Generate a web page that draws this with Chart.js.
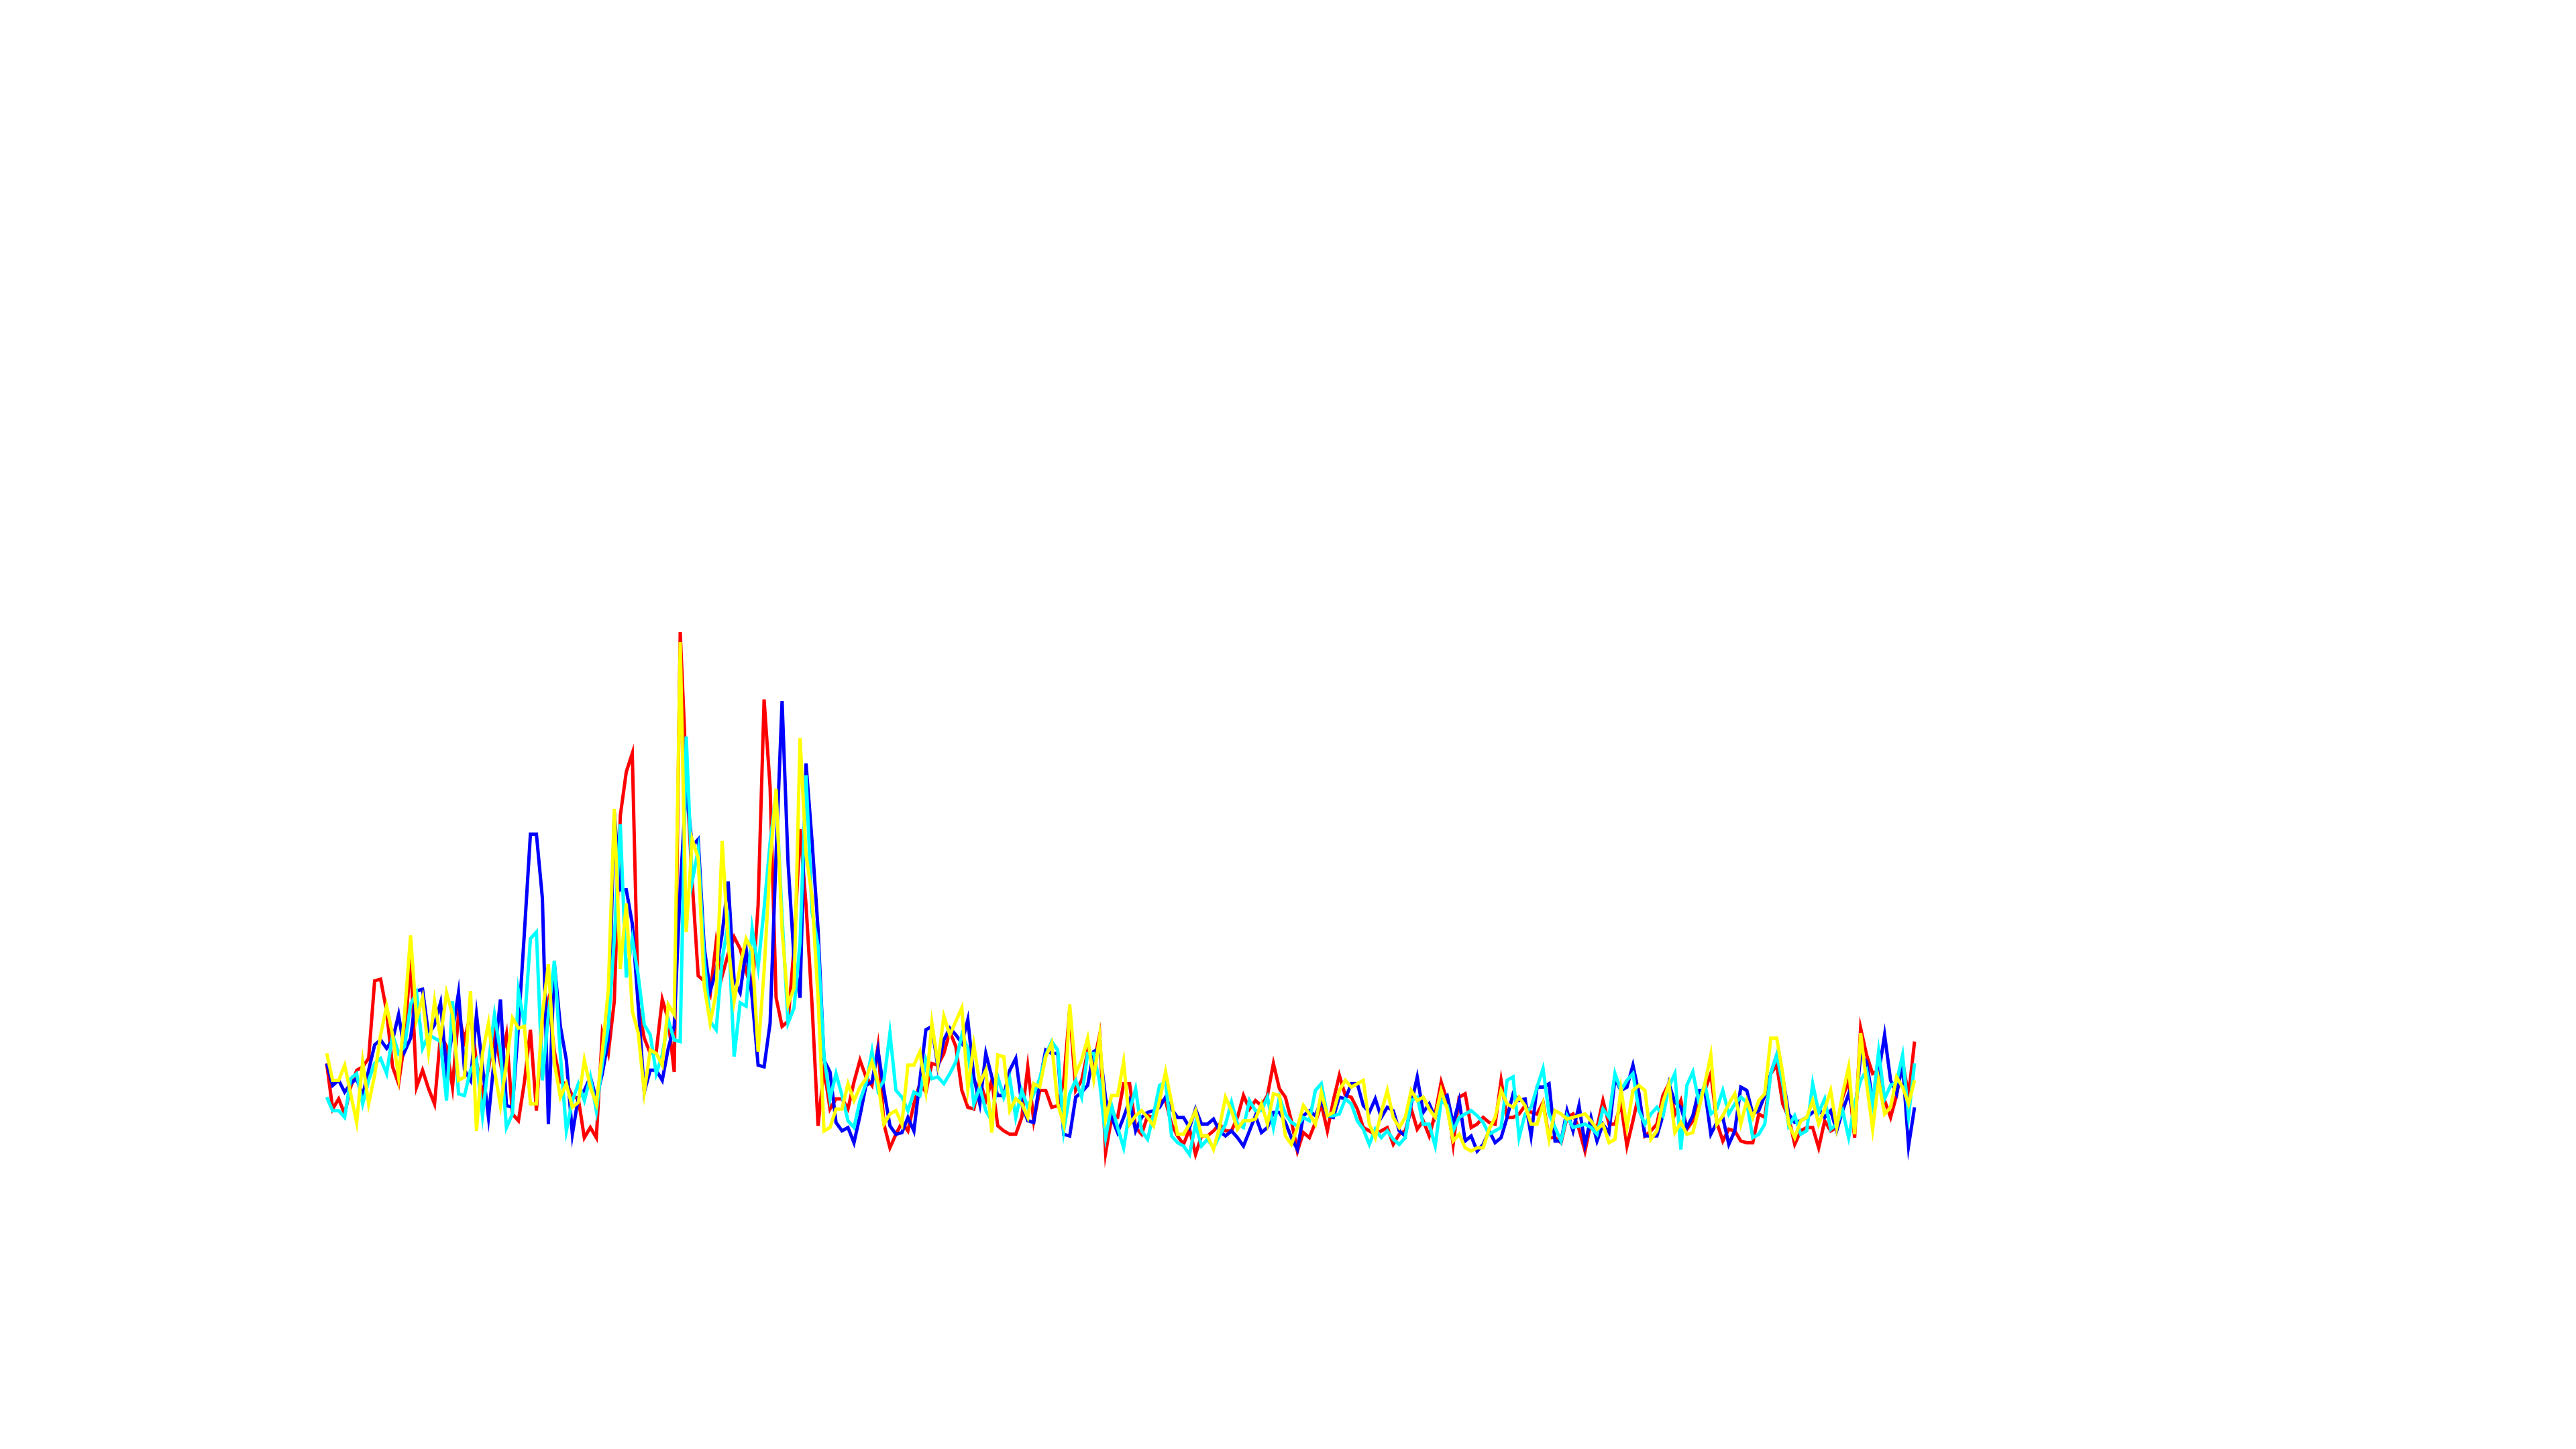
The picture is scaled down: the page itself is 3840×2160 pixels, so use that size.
<!DOCTYPE html>
<html>
<head>
<meta charset="utf-8">
<title>Four traces</title>
<script src="https://cdn.jsdelivr.net/npm/chart.js@4/dist/chart.umd.min.js"></script>
<style>
  html, body { margin: 0; padding: 0; background: #fff; }
  #wrap { width: 3840px; height: 2160px; }
</style>
</head>
<body>
<div id="wrap"><canvas id="traces" width="3840" height="2160"></canvas></div>
<script>
// values, one per sample, grid step = 100
const redSeries = [
  56, 29, 35, 26, 42, 52, 54, 59, 105, 106, 87, 54, 44, 69, 119, 42, 52, 41, 32, 73,
  66, 42, 85, 70, 85, 57, 38, 53, 74, 56, 73, 26, 22, 45, 76, 28, 82, 94, 63, 45,
  44, 37, 35, 12, 18, 12, 74, 62, 93, 203, 229, 240, 90, 71, 62, 63, 94, 82, 51, 312,
  230, 164, 108, 105, 97, 128, 108, 121, 131, 124, 111, 98, 150, 272, 220, 95, 78, 81, 125, 195,
  150, 91, 19, 53, 29, 35, 35, 29, 45, 58, 48, 43, 66, 20, 6, 14, 21, 16, 32, 44,
  39, 56, 55, 62, 75, 66, 40, 30, 29, 46, 34, 46, 19, 16, 14, 14, 24, 54, 22, 40,
  40, 30, 31, 45, 88, 40, 46, 63, 56, 73, 3, 24, 24, 44, 44, 18, 14, 25, 24, 34,
  34, 20, 13, 8, 17, 2, 13, 13, 16, 20, 16, 16, 24, 37, 29, 34, 31, 37, 56, 41,
  36, 22, 4, 15, 12, 21, 32, 16, 34, 49, 37, 36, 29, 18, 16, 14, 16, 18, 8, 14,
  16, 29, 17, 22, 13, 26, 45, 34, 8, 36, 38, 18, 20, 24, 21, 20, 46, 24, 24, 26,
  31, 27, 26, 33, 12, 12, 9, 24, 26, 17, 4, 21, 18, 34, 20, 20, 32, 7, 22, 38,
  13, 16, 20, 37, 44, 26, 34, 17, 22, 37, 40, 50, 21, 10, 17, 16, 10, 9, 9, 26,
  24, 50, 55, 32, 24, 8, 16, 18, 18, 6, 22, 16, 18, 36, 46, 12, 77, 61, 50, 52,
  34, 24, 37, 57, 37, 69
];
const blueSeries = [
  56, 43, 46, 39, 44, 47, 37, 52, 67, 70, 65, 70, 85, 63, 71, 99, 100, 73, 79, 92,
  52, 75, 98, 52, 46, 85, 54, 24, 60, 94, 31, 30, 78, 134, 192, 192, 154, 20, 115, 78,
  58, 14, 36, 40, 48, 35, 50, 70, 205, 159, 159, 139, 90, 39, 52, 52, 46, 65, 78, 160,
  220, 185, 189, 125, 99, 111, 133, 164, 105, 98, 124, 95, 55, 54, 80, 180, 271, 175, 118, 95,
  234, 188, 136, 58, 51, 21, 16, 18, 9, 25, 43, 45, 64, 40, 19, 14, 15, 24, 16, 46,
  76, 78, 54, 70, 77, 73, 68, 82, 48, 32, 62, 48, 37, 37, 52, 59, 32, 22, 21, 45,
  64, 62, 62, 14, 13, 36, 39, 43, 63, 65, 35, 24, 15, 24, 34, 16, 24, 27, 28, 30,
  36, 29, 24, 24, 18, 29, 20, 20, 23, 16, 13, 16, 12, 7, 16, 25, 15, 18, 27, 27,
  21, 12, 5, 25, 28, 25, 34, 25, 24, 36, 35, 44, 44, 31, 27, 35, 24, 30, 28, 16,
  13, 32, 48, 27, 32, 24, 34, 37, 20, 34, 10, 13, 4, 8, 16, 9, 12, 24, 38, 34,
  35, 13, 42, 42, 44, 10, 10, 28, 16, 31, 8, 24, 10, 20, 15, 47, 40, 42, 55, 38,
  13, 13, 13, 25, 44, 33, 30, 18, 25, 40, 40, 14, 21, 24, 8, 16, 42, 40, 26, 28,
  37, 50, 61, 48, 26, 21, 22, 24, 27, 29, 24, 28, 16, 28, 38, 24, 61, 57, 34, 50,
  73, 46, 38, 56, 7, 30
];
const cyanSeries = [
  36, 28, 28, 24, 47, 50, 32, 46, 56, 59, 50, 73, 62, 66, 91, 98, 65, 73, 71, 69,
  34, 93, 38, 37, 52, 58, 25, 56, 85, 63, 18, 26, 99, 79, 130, 134, 46, 85, 117, 61,
  16, 34, 44, 34, 48, 28, 56, 78, 130, 198, 107, 130, 108, 79, 73, 50, 61, 82, 70, 69,
  250, 164, 183, 118, 81, 76, 118, 139, 60, 92, 90, 136, 113, 148, 187, 216, 143, 80, 89, 128,
  227, 146, 126, 60, 35, 50, 37, 22, 18, 34, 44, 63, 40, 46, 74, 40, 36, 28, 39, 37,
  58, 47, 48, 44, 50, 57, 73, 65, 32, 42, 28, 22, 48, 36, 47, 24, 40, 30, 38, 47,
  61, 69, 64, 16, 38, 46, 36, 62, 62, 45, 12, 31, 18, 6, 28, 41, 16, 11, 26, 43,
  45, 13, 9, 7, 2, 20, 7, 11, 6, 13, 20, 33, 20, 18, 34, 28, 28, 36, 18, 36,
  26, 21, 19, 24, 22, 40, 44, 25, 25, 26, 35, 32, 22, 17, 8, 17, 12, 16, 11, 8,
  12, 34, 36, 20, 20, 7, 34, 31, 16, 24, 26, 28, 25, 21, 14, 16, 18, 46, 48, 12,
  26, 30, 42, 53, 26, 18, 10, 25, 18, 19, 20, 18, 14, 29, 24, 50, 40, 46, 50, 28,
  20, 26, 30, 25, 42, 50, 5, 43, 51, 33, 44, 26, 29, 40, 26, 32, 36, 33, 12, 14,
  20, 50, 61, 44, 19, 25, 14, 16, 44, 27, 35, 17, 20, 28, 12, 32, 46, 52, 32, 63,
  35, 43, 45, 61, 25, 56
];
const yellowSeries = [
  62, 46, 46, 55, 38, 21, 57, 32, 49, 73, 90, 73, 48, 85, 132, 82, 95, 63, 93, 71,
  98, 85, 46, 48, 99, 16, 62, 80, 52, 31, 56, 83, 77, 78, 32, 32, 85, 115, 56, 36,
  44, 30, 33, 58, 42, 32, 63, 100, 207, 112, 151, 87, 74, 39, 64, 62, 55, 91, 85, 306,
  134, 189, 178, 102, 80, 98, 188, 127, 93, 114, 130, 123, 63, 111, 175, 219, 135, 91, 101, 249,
  180, 155, 95, 16, 18, 29, 29, 44, 34, 42, 47, 57, 45, 20, 26, 28, 20, 55, 55, 63,
  40, 80, 56, 84, 73, 81, 89, 41, 67, 44, 52, 15, 61, 60, 28, 35, 32, 24, 44, 42,
  60, 68, 32, 20, 91, 50, 58, 71, 47, 72, 23, 37, 37, 57, 20, 25, 28, 24, 19, 34,
  51, 33, 14, 14, 20, 28, 13, 13, 5, 18, 36, 28, 17, 22, 22, 23, 32, 20, 38, 37,
  13, 8, 18, 31, 26, 20, 39, 25, 27, 40, 46, 42, 44, 46, 20, 12, 27, 40, 24, 18,
  24, 40, 34, 36, 29, 24, 40, 29, 10, 14, 6, 4, 6, 6, 17, 24, 40, 32, 30, 36,
  31, 20, 20, 32, 11, 28, 26, 23, 24, 25, 26, 22, 17, 20, 9, 11, 41, 18, 40, 43,
  40, 11, 16, 33, 44, 15, 21, 14, 15, 29, 44, 61, 20, 25, 32, 38, 20, 34, 24, 34,
  38, 71, 71, 50, 20, 12, 22, 24, 34, 20, 29, 40, 18, 38, 54, 14, 74, 44, 17, 46,
  26, 30, 48, 42, 32, 46
];

// sample numbers along the x axis (no tick labels are shown)
const sampleLabels = redSeries.map((v, i) => i + 1);

const chartCanvas = document.getElementById("traces");

chartCanvas.chart = new Chart(chartCanvas, {
  type: "line",
  data: {
    labels: sampleLabels,
    datasets: [
      { label: "red", data: redSeries, borderColor: "#ff0000", order: 3 },
      { label: "blue", data: blueSeries, borderColor: "#0000ff", order: 2 },
      { label: "cyan", data: cyanSeries, borderColor: "#00ffff", order: 1 },
      { label: "yellow", data: yellowSeries, borderColor: "#ffff00", order: 0 },
    ],
  },
  options: {
    responsive: false,
    animation: false,
    devicePixelRatio: 1,
    layout: {
      padding: { left: 487, right: 986, top: 922, bottom: 434 },
    },
    elements: {
      line: { borderWidth: 5, tension: 0, fill: false, borderCapStyle: "butt", borderJoinStyle: "miter" },
      point: { radius: 0, hoverRadius: 0 },
    },
    datasets: {
      line: { clip: false },
    },
    plugins: {
      legend: { display: false },
      tooltip: { enabled: false },
      title: { display: false },
    },
    scales: {
      x: {
        type: "category",
        offset: false,
        display: false,
      },
      y: {
        type: "linear",
        min: 0,
        max: 320,
        display: true,
        z: 1,
        afterFit: (axis) => { axis.width = 0; },
        ticks: { display: false, stepSize: 100 },
        border: { display: false },
        grid: { color: "#ffffff", lineWidth: 1, drawTicks: false },
      },
    },
  },
});
</script>
</body>
</html>
